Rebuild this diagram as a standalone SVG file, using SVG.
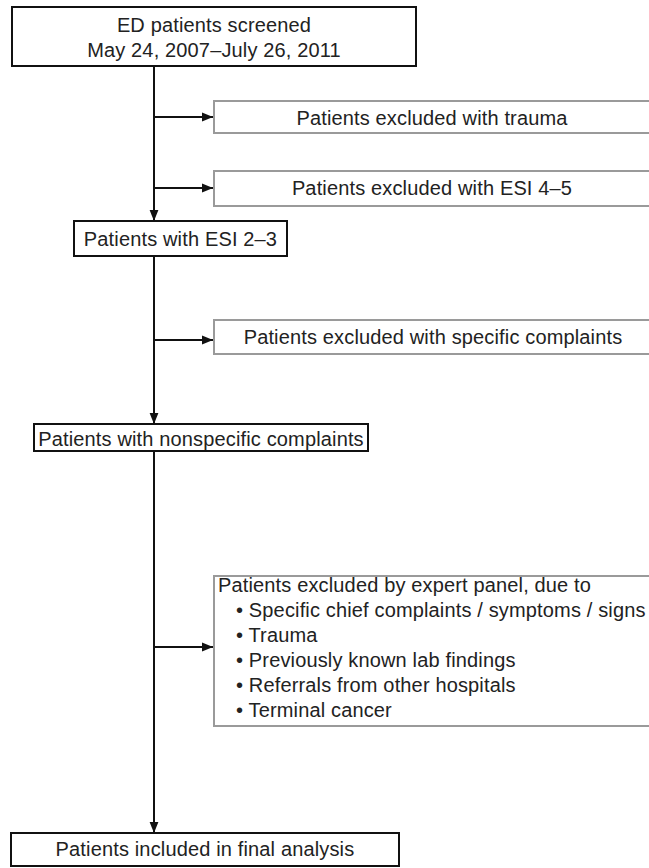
<svg xmlns="http://www.w3.org/2000/svg" width="649" height="868" viewBox="0 0 649 868">
<defs>
<style>
.bk{fill:#fff;stroke:#111;stroke-width:2}
.gr{fill:#fff;stroke:#9a9a9a;stroke-width:2}
text{font-family:"Liberation Sans",Arial,sans-serif;font-size:20px;letter-spacing:0.15px;fill:#222}
.c{text-anchor:middle}
.ln{stroke:#111;stroke-width:2;fill:none}
</style>
<marker id="ah" viewBox="0 0 10 10" refX="10" refY="5" markerWidth="11" markerHeight="11" markerUnits="userSpaceOnUse" orient="auto">
<path d="M0,1 L10,5 L0,9 Z" fill="#111"/>
</marker>
</defs>
<rect width="649" height="868" fill="#fff"/>
<g id="connectors">
<line class="ln" x1="154" y1="66" x2="154" y2="221" marker-end="url(#ah)"/>
<line class="ln" x1="154" y1="117" x2="213" y2="117" marker-end="url(#ah)"/>
<line class="ln" x1="154" y1="188" x2="213" y2="188" marker-end="url(#ah)"/>
<line class="ln" x1="154" y1="256" x2="154" y2="424" marker-end="url(#ah)"/>
<line class="ln" x1="154" y1="340" x2="213" y2="340" marker-end="url(#ah)"/>
<line class="ln" x1="154" y1="451" x2="154" y2="833" marker-end="url(#ah)"/>
<line class="ln" x1="154" y1="647" x2="213" y2="647" marker-end="url(#ah)"/>
</g>
<g id="screened">
<rect class="bk" x="12" y="7" width="404" height="59"/>
<text class="c" x="214" y="32">ED patients screened</text>
<text class="c" x="214" y="57">May 24, 2007–July 26, 2011</text>
</g>
<g id="excl-trauma">
<rect class="gr" x="214" y="101" width="445" height="32"/>
<text class="c" x="432" y="125">Patients excluded with trauma</text>
</g>
<g id="excl-esi45">
<rect class="gr" x="214" y="171" width="445" height="35"/>
<text class="c" x="432" y="195">Patients excluded with ESI 4–5</text>
</g>
<g id="esi23">
<rect class="bk" x="74" y="221" width="213" height="35"/>
<text class="c" x="180.5" y="246">Patients with ESI 2–3</text>
</g>
<g id="excl-specific">
<rect class="gr" x="214" y="320" width="445" height="34"/>
<text class="c" x="433" y="344">Patients excluded with specific complaints</text>
</g>
<g id="nonspecific">
<rect class="bk" x="34" y="424" width="334" height="27"/>
<text class="c" x="201" y="446">Patients with nonspecific complaints</text>
</g>
<g id="excl-panel">
<rect class="gr" x="214" y="576" width="445" height="150"/>
<text x="218" y="592">Patients excluded by expert panel, due to</text>
<text x="236" y="617">• Specific chief complaints / symptoms / signs</text>
<text x="236" y="642">• Trauma</text>
<text x="236" y="667">• Previously known lab findings</text>
<text x="236" y="692">• Referrals from other hospitals</text>
<text x="236" y="717">• Terminal cancer</text>
</g>
<g id="final">
<rect class="bk" x="11" y="833" width="388" height="33"/>
<text class="c" x="205" y="856">Patients included in final analysis</text>
</g>
</svg>
